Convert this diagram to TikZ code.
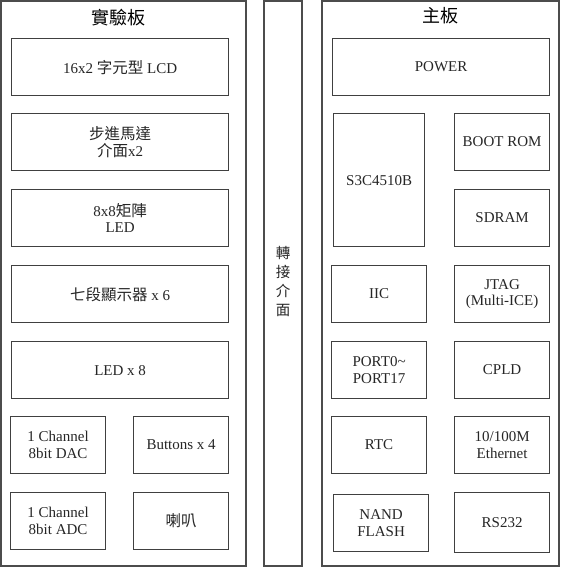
\documentclass[tikz,border=0pt]{standalone}
\usepackage{fontspec}
\setmainfont{Liberation Serif}
\newfontfamily\cjk{Noto Sans CJK TC}
\newcommand\zh[1]{{\cjk\fontsize{15.5}{16.5}\selectfont #1}}
\begin{document}
\begin{tikzpicture}[x=1pt,y=-1pt,
  panel/.style={draw=black!70,line width=1.3pt,fill=white},
  box/.style={draw=black!75,line width=1.2pt,inner sep=0pt,align=center,anchor=north west,
    font=\fontsize{15}{16.5}\selectfont,text=black!85},
  wide/.style={box,minimum width=217pt,minimum height=57pt},
  narrow/.style={box,minimum width=95pt,minimum height=57pt},
  title/.style={font=\cjk\fontsize{18}{20}\selectfont,inner sep=0pt}]
\useasboundingbox (0,0) rectangle (561,568);
% panels
\draw[panel] (1,1) rectangle (246,566);
\draw[panel] (264,1) rectangle (302,566);
\draw[panel] (322,1) rectangle (559,566);
\node[title] (exptitle) at (118,18) {實驗板};
\node[title] (maintitle) at (440,16) {主板};
\node[inner sep=0pt,align=center,font=\cjk\fontsize{14.5}{19}\selectfont,text=black!85] (bridgetext) at (283,281) {轉\\接\\介\\面};
% left board
\node[wide] (lcd) at (11,38) {16x2 \zh{字元型} LCD};
\node[wide] (motor) at (11,113) {\zh{步進馬達}\\\zh{介面}x2};
\node[wide] (matrix) at (11,189) {8x8\zh{矩陣}\\LED};
\node[wide] (seg) at (11,265) {\zh{七段顯示器} x 6};
\node[wide] (led) at (11,341) {LED x 8};
\node[narrow] (dac) at (10,416) {1 Channel\\8bit DAC};
\node[narrow] (btn) at (133,416) {Buttons x 4};
\node[narrow] (adc) at (10,492) {1 Channel\\8bit ADC};
\node[narrow] (spk) at (133,492) {\zh{喇叭}};
% main board
\node[wide] (power) at (332,38) {POWER};
\node[box,minimum width=91pt,minimum height=133pt] (cpu) at (333,113) {S3C4510B};
\node[narrow] (bootrom) at (454,113) {BOOT ROM};
\node[narrow] (sdram) at (454,189) {SDRAM};
\node[narrow] (iic) at (331,265) {IIC};
\node[narrow] (jtag) at (454,265) {JTAG\\(Multi-ICE)};
\node[narrow] (port) at (331,341) {PORT0\textasciitilde\\PORT17};
\node[narrow] (cpld) at (454,341) {CPLD};
\node[narrow] (rtc) at (331,416) {RTC};
\node[narrow] (eth) at (454,416) {10/100M\\Ethernet};
\node[narrow] (nand) at (333,494) {NAND\\FLASH};
\node[box,minimum width=95pt,minimum height=60pt] (rs232) at (454,492) {RS232};
\end{tikzpicture}
\end{document}
